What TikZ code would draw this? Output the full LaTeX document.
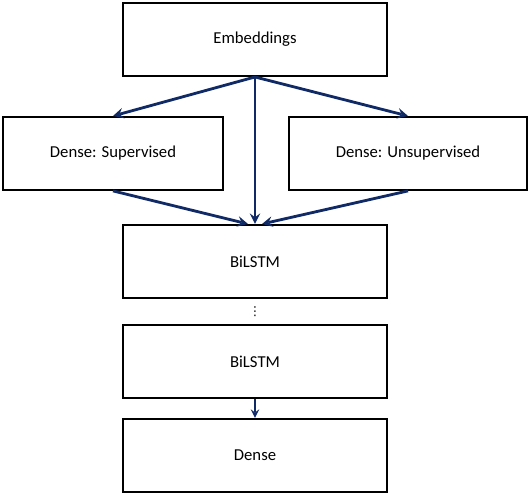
\documentclass[tikz,border=0pt]{standalone}
\usepackage{fontspec}
\setmainfont{Carlito}
\newfontfamily\dotsfont{DejaVu Sans}
\usetikzlibrary{positioning, arrows, calc}
\definecolor{arrowblue}{RGB}{16,42,102}
\tikzset{
    node distance=0.78cm, % gap between the stacked boxes
    block/.style={ % every layer box
        draw,
        line width=1.1pt,
        rectangle,
        minimum width=5.28cm,
        minimum height=1.46cm,
        font=\fontsize{9.5}{11}\selectfont
    },
    flow/.style={ % the arrows between layers
        draw=arrowblue,
        ->,>=stealth,
        line width=1.6pt
    }
}
\begin{document}
\begin{tikzpicture}
            \useasboundingbox (0,0) rectangle (10.6,-9.92);
            \node[block] (emb) at (5.1,-0.79) {Embeddings};
            \node[block, minimum width=4.40cm, below=of emb, xshift=-2.84cm] (sup) {Dense: Supervised};
            \node[block, minimum width=4.76cm, below=of emb, xshift=3.06cm] (unsup) {Dense: Unsupervised};
            \node[block, below=2.94cm of emb] (lstma) {BiLSTM};
            \node[block, below=0.5cm of lstma] (lstmb) {BiLSTM};
            \node[block, below=0.38cm of lstmb] (dense) {Dense};
            \node[inner sep=0pt, font=\dotsfont\fontsize{7}{8}\selectfont] (dots) at ($(lstma.south)!0.5!(lstmb.north)$) {⋮};
            \draw[flow] (emb.south) -- (sup.north);
            \draw[flow] (emb.south) -- (unsup.north);
            \draw[flow] (emb.south) -- (lstma.north);
            \draw[flow] (sup.south) -- ([xshift=-0.14cm]lstma.north);
            \draw[flow] (unsup.south) -- ([xshift=0.14cm]lstma.north);
            \draw[flow, line width=1.1pt] (lstmb.south) -- (dense.north);
        \end{tikzpicture}
\end{document}
